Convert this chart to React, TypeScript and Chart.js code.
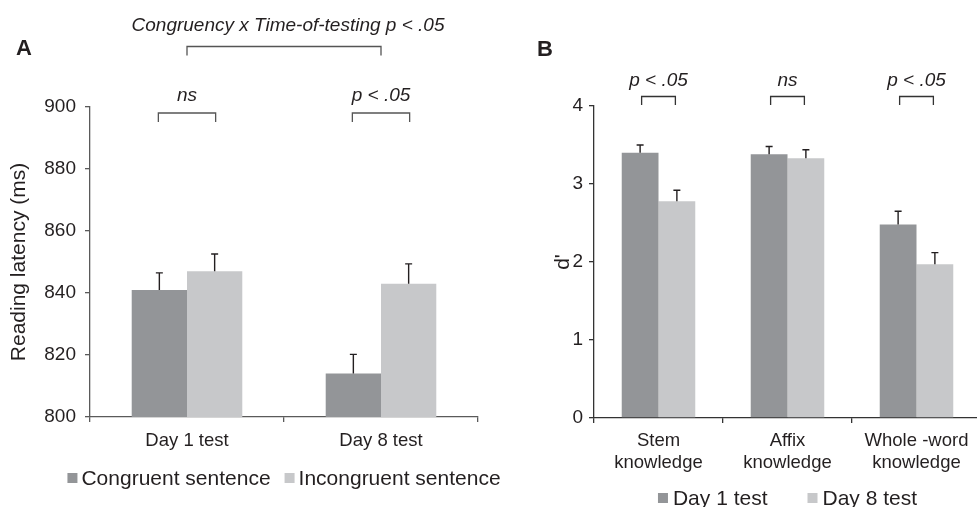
import React, { useEffect, useRef } from 'react';
import { Chart, registerables } from 'chart.js';

Chart.register(...registerables);

const FONT = "'Liberation Sans', Arial, Helvetica, sans-serif";
const TEXT = '#231f20';
const DARK = '#939598';
const LIGHT = '#c7c8ca';

// ---- Panel A data ----
const categoriesA = ['Day 1 test', 'Day 8 test'];
const congruent = [841, 814];
const congruentErr = [5.5, 6.2];
const incongruent = [847, 843];
const incongruentErr = [5.6, 6.4];
const ticksA = [800, 820, 840, 860, 880, 900];
const pairLabelsA = ['ns', 'p < .05'];
const interactionLabelA = 'Congruency x Time-of-testing p < .05';

// ---- Panel B data ----
const categoriesB = [['Stem', 'knowledge'], ['Affix', 'knowledge'], ['Whole -word', 'knowledge']];
const day1 = [3.40, 3.38, 2.48];
const day1Err = [0.10, 0.10, 0.17];
const day8 = [2.78, 3.33, 1.97];
const day8Err = [0.14, 0.11, 0.15];
const ticksB = [0, 1, 2, 3, 4];
const pairLabelsB = ['p < .05', 'ns', 'p < .05'];

const decorPlugin = {
  id: 'decor',
  afterDraw(chart: any, _args: any, opts: any) {
    const ctx = chart.ctx as CanvasRenderingContext2D;
    const ys = chart.scales.y;
    const xs = chart.scales.x;
    const area = chart.chartArea;
    ctx.save();
    // error bars
    ctx.strokeStyle = '#231f20';
    ctx.lineWidth = 1.4;
    chart.data.datasets.forEach((ds: any, di: number) => {
      const meta = chart.getDatasetMeta(di);
      const errs = opts.errors[di];
      meta.data.forEach((bar: any, i: number) => {
        const top = ys.getPixelForValue(ds.data[i] + errs[i]);
        ctx.beginPath();
        ctx.moveTo(bar.x, bar.y);
        ctx.lineTo(bar.x, top);
        ctx.moveTo(bar.x - 3.5, top);
        ctx.lineTo(bar.x + 3.5, top);
        ctx.stroke();
      });
    });
    // pair brackets
    ctx.strokeStyle = opts.lineColor;
    ctx.lineWidth = 1.3;
    ctx.fillStyle = TEXT;
    ctx.font = `italic 19px ${FONT}`;
    ctx.textAlign = 'center';
    ctx.textBaseline = 'alphabetic';
    const m0 = chart.getDatasetMeta(0);
    const m1 = chart.getDatasetMeta(1);
    opts.pairLabels.forEach((lab: string, i: number) => {
      const x1 = m0.data[i].x + opts.inset;
      const x2 = m1.data[i].x - opts.inset;
      const ly = area.top + opts.pairLineDy;
      const gy = area.top + opts.pairLegDy;
      ctx.beginPath();
      ctx.moveTo(x1, gy);
      ctx.lineTo(x1, ly);
      ctx.lineTo(x2, ly);
      ctx.lineTo(x2, gy);
      ctx.stroke();
      ctx.fillText(lab, (x1 + x2) / 2, area.top + opts.pairTextDy);
    });
    // span bracket
    if (opts.span) {
      const s = opts.span;
      const x1 = xs.getPixelForValue(0);
      const x2 = xs.getPixelForValue(1);
      ctx.beginPath();
      ctx.moveTo(x1, s.legY);
      ctx.lineTo(x1, s.lineY);
      ctx.lineTo(x2, s.lineY);
      ctx.lineTo(x2, s.legY);
      ctx.stroke();
      ctx.fillText(s.label, (x1 + x2) / 2 + 4, s.textY);
    }
    // panel letter
    ctx.font = `bold 22px ${FONT}`;
    ctx.textAlign = 'left';
    ctx.fillText(opts.letter.text, opts.letter.x, opts.letter.y);
    // legend
    const lg = opts.legend;
    ctx.font = `21px ${FONT}`;
    const items = chart.data.datasets.map((ds: any) => ({ label: ds.label, color: ds.backgroundColor }));
    const widths = items.map((it: any) => lg.box + lg.gap + ctx.measureText(it.label).width);
    const total = widths.reduce((a: number, b: number) => a + b, 0) + lg.itemGap * (items.length - 1);
    let x = (area.left + area.right) / 2 - total / 2;
    ctx.textBaseline = 'middle';
    items.forEach((it: any, i: number) => {
      ctx.fillStyle = it.color;
      ctx.fillRect(x, lg.y - lg.box / 2, lg.box, lg.box);
      ctx.fillStyle = TEXT;
      ctx.fillText(it.label, x + lg.box + lg.gap, lg.y + 1);
      x += widths[i] + lg.itemGap;
    });
    ctx.restore();
  },
};

function axisOpts(color: string, offset: boolean) {
  return {
    grid: { display: true, drawOnChartArea: false, drawTicks: true, tickLength: 5, color, lineWidth: 1.3, offset },
    border: { display: true, color, width: 1.3 },
  };
}

function makeConfigA(): any {
  return {
    type: 'bar',
    data: {
      labels: categoriesA,
      datasets: [
        { label: 'Congruent sentence', data: congruent, backgroundColor: DARK, categoryPercentage: 0.57, barPercentage: 1 },
        { label: 'Incongruent sentence', data: incongruent, backgroundColor: LIGHT, categoryPercentage: 0.57, barPercentage: 1 },
      ],
    },
    options: {
      responsive: false,
      animation: false,
      layout: { padding: { top: 107, right: 42, bottom: 40, left: 0 } },
      plugins: {
        legend: { display: false },
        tooltip: { enabled: false },
        decor: {
          errors: [congruentErr, incongruentErr],
          pairLabels: pairLabelsA,
          inset: -1,
          pairLineDy: 6,
          pairLegDy: 15,
          pairTextDy: -6,
          span: { label: interactionLabelA, lineY: 46.5, legY: 55.5, textY: 30.5 },
          letter: { text: 'A', x: 16, y: 55 },
          legend: { y: 478, box: 10, gap: 4, itemGap: 14 },
          lineColor: '#555',
        },
      },
      scales: {
        x: {
          ...axisOpts('#5a5a5a', true),
          ticks: { color: TEXT, font: { family: FONT, size: 18.5 }, padding: 8 },
          afterFit: (s: any) => { s.height = 50; },
        },
        y: {
          ...axisOpts('#5a5a5a', false),
          min: 800,
          max: 900,
          afterBuildTicks: (s: any) => { s.ticks = ticksA.map((v) => ({ value: v })); },
          ticks: { color: TEXT, font: { family: FONT, size: 19 }, padding: 9 },
          title: { display: true, text: 'Reading latency (ms)', color: TEXT, font: { family: FONT, size: 21 }, padding: { top: 7, bottom: 0 } },
          afterFit: (s: any) => { s.width = 90; },
        },
      },
    },
    plugins: [decorPlugin],
  };
}

function makeConfigB(): any {
  return {
    type: 'bar',
    data: {
      labels: categoriesB,
      datasets: [
        { label: 'Day 1 test', data: day1, backgroundColor: DARK, categoryPercentage: 0.57, barPercentage: 1 },
        { label: 'Day 8 test', data: day8, backgroundColor: LIGHT, categoryPercentage: 0.57, barPercentage: 1 },
      ],
    },
    options: {
      responsive: false,
      animation: false,
      layout: { padding: { top: 106, right: 9, bottom: 19, left: 0 } },
      plugins: {
        legend: { display: false },
        tooltip: { enabled: false },
        decor: {
          errors: [day1Err, day8Err],
          pairLabels: pairLabelsB,
          inset: 1.5,
          pairLineDy: -9.5,
          pairLegDy: -1,
          pairTextDy: -20,
          span: null,
          letter: { text: 'B', x: 47, y: 55.5 },
          legend: { y: 498, box: 10, gap: 5, itemGap: 40 },
          lineColor: '#333',
        },
      },
      scales: {
        x: {
          ...axisOpts('#333', true),
          ticks: { color: TEXT, font: { family: FONT, size: 18.5 }, padding: 7, maxRotation: 0 },
          afterFit: (s: any) => { s.height = 70; },
        },
        y: {
          ...axisOpts('#333', false),
          min: 0,
          max: 4,
          afterBuildTicks: (s: any) => { s.ticks = ticksB.map((v) => ({ value: v })); },
          ticks: { color: TEXT, font: { family: FONT, size: 19 }, padding: 6 },
          title: { display: true, text: "d'", color: TEXT, font: { family: FONT, size: 21 }, padding: { top: 61, bottom: 0 } },
          afterFit: (s: any) => { s.width = 104; },
        },
      },
    },
    plugins: [decorPlugin],
  };
}

function Panel({ left, width, makeConfig }: { left: number; width: number; makeConfig: () => any }) {
  const ref = useRef<HTMLCanvasElement>(null);
  useEffect(() => {
    const chart = new Chart(ref.current as HTMLCanvasElement, makeConfig());
    return () => chart.destroy();
  }, []);
  return (
    <canvas
      ref={ref}
      width={width}
      height={507}
      style={{ position: 'absolute', left, top: 0, width, height: 507 }}
    />
  );
}

export default function App() {
  return (
    <div style={{ position: 'fixed', left: 0, top: 0, width: 977, height: 507, overflow: 'hidden', background: '#fff' }}>
      <Panel left={0} width={520} makeConfig={makeConfigA} />
      <Panel left={490} width={500} makeConfig={makeConfigB} />
    </div>
  );
}
